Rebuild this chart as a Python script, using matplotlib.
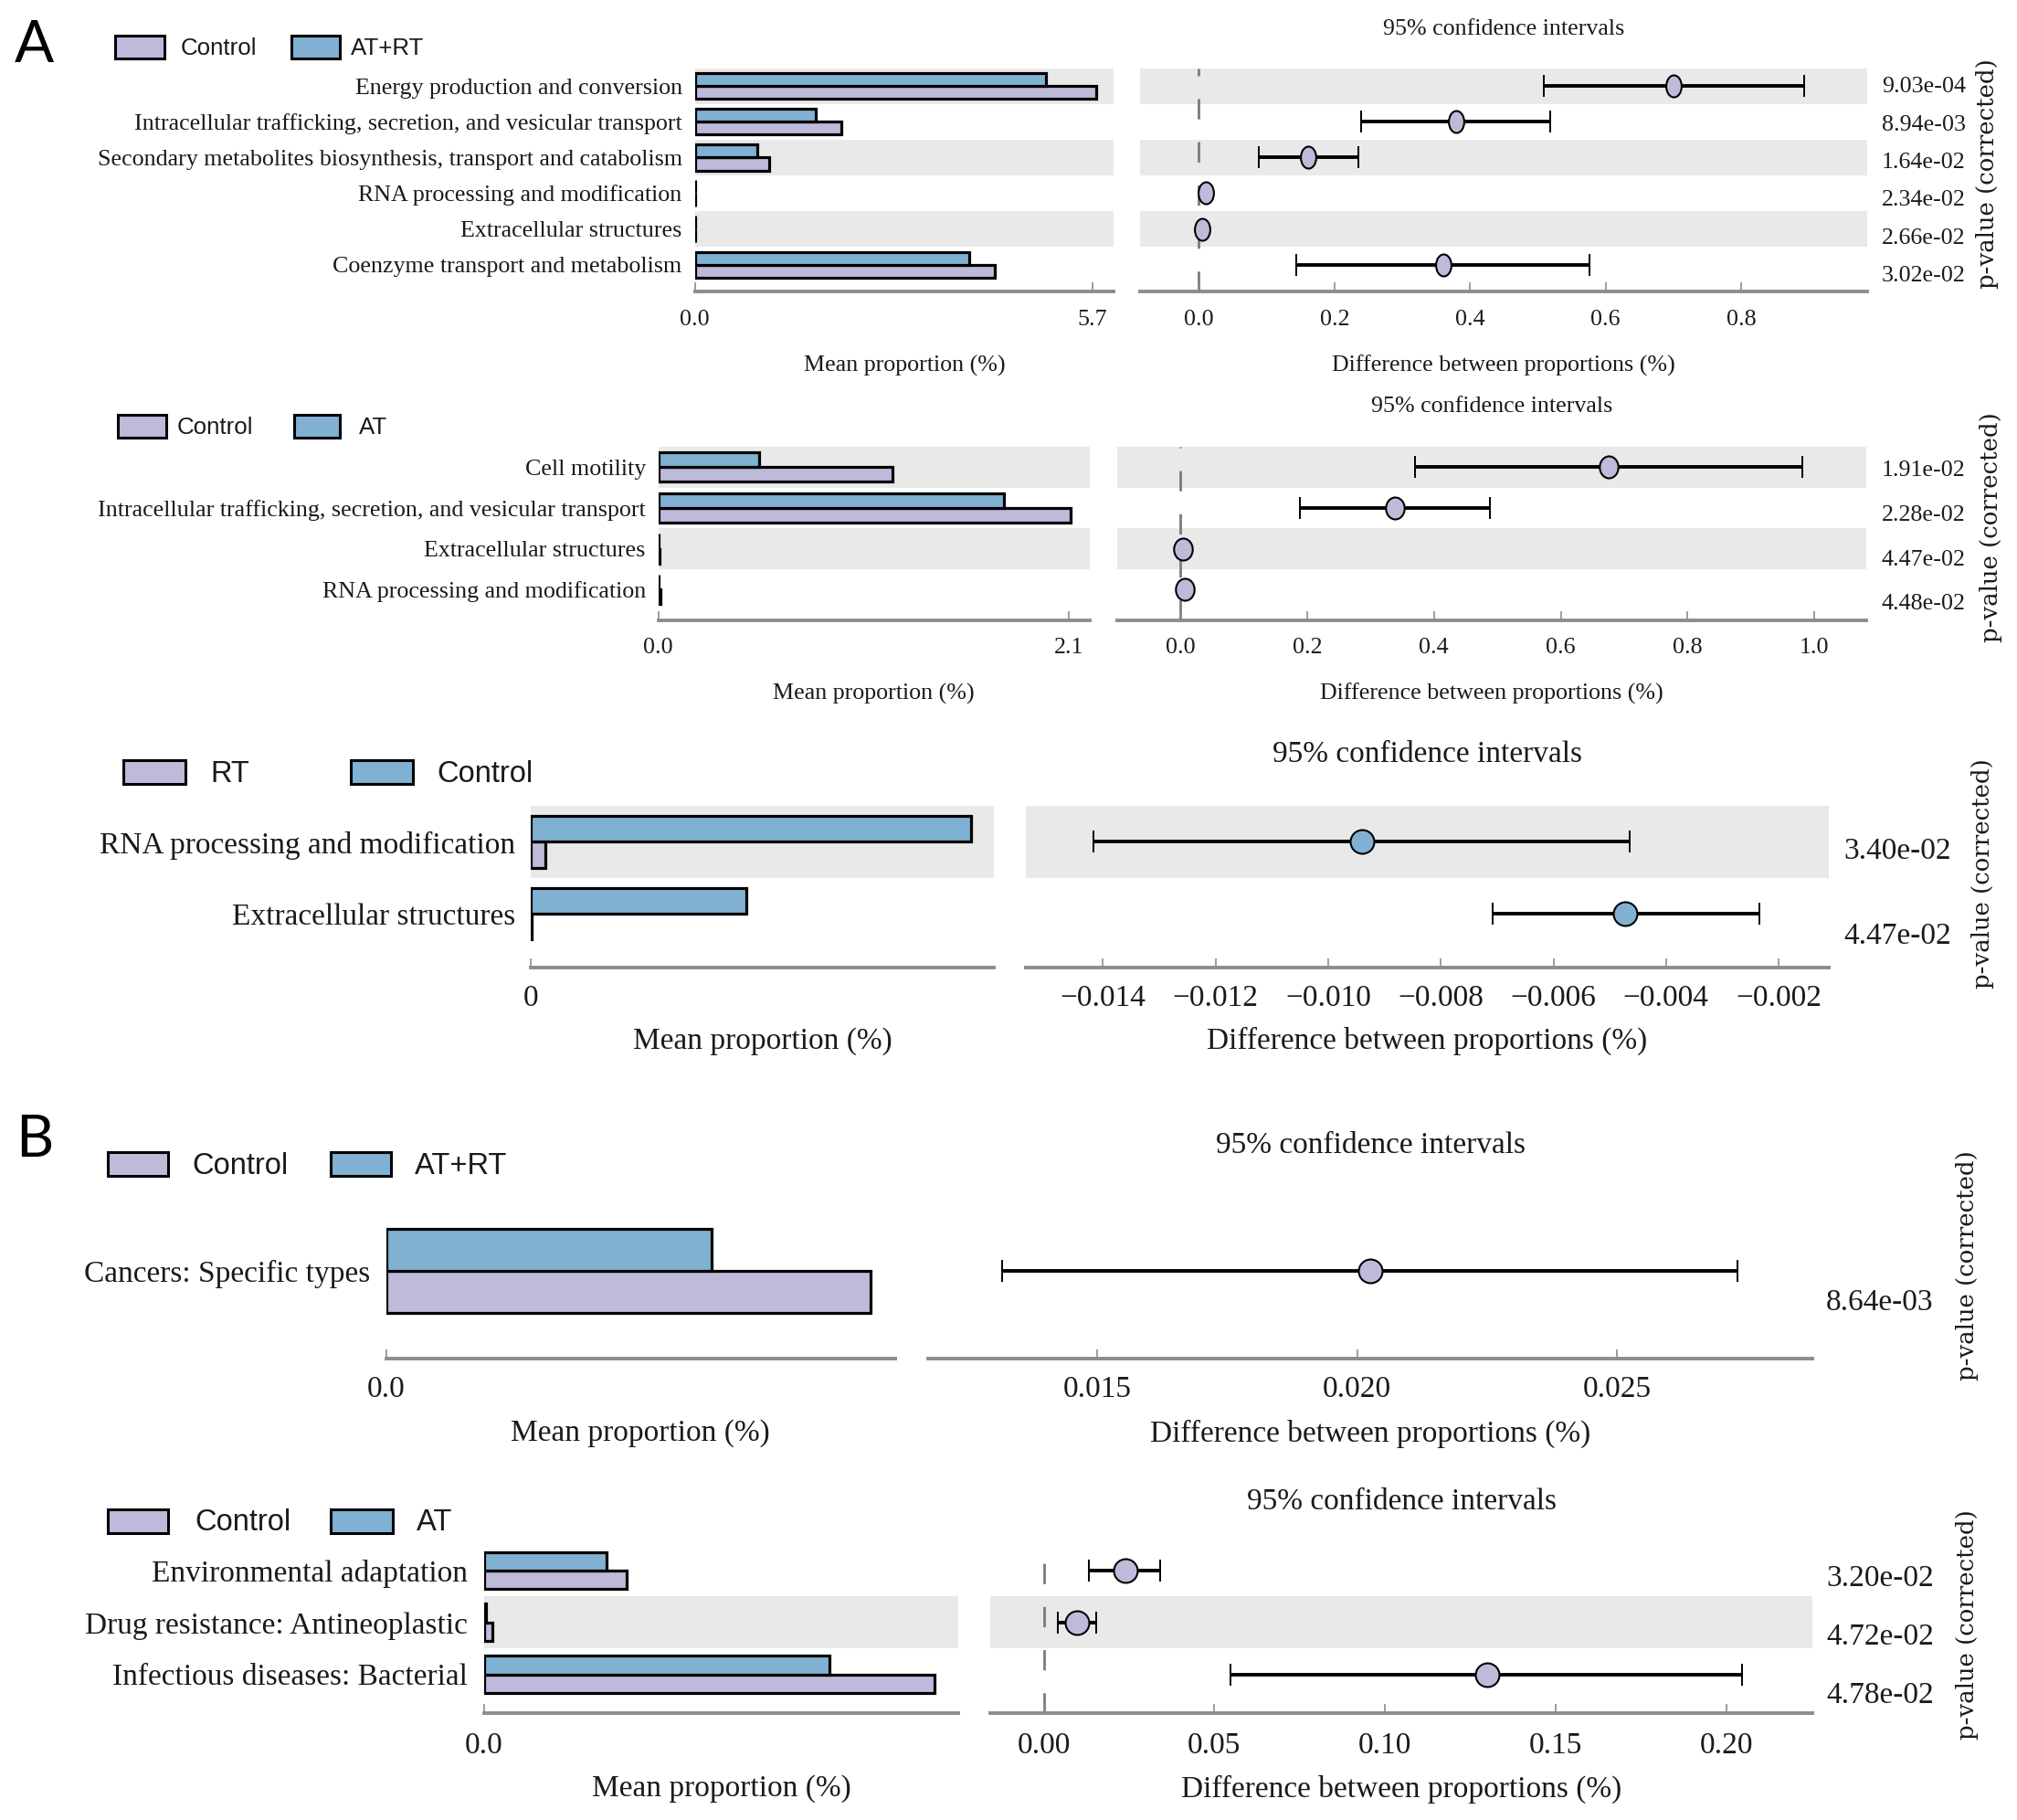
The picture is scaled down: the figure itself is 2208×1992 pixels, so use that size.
import numpy as np
import matplotlib
matplotlib.use("Agg")
import matplotlib.pyplot as plt
from matplotlib.patches import Rectangle
from matplotlib.path import Path
from matplotlib.transforms import blended_transform_factory
from matplotlib import font_manager as fm

# ---------------- DATA ----------------
A1_categories = ["Energy production and conversion",
                 "Intracellular trafficking, secretion, and vesicular transport",
                 "Secondary metabolites biosynthesis, transport and catabolism",
                 "RNA processing and modification",
                 "Extracellular structures",
                 "Coenzyme transport and metabolism"]
A1_groups = ["Control", "AT+RT"]
A1_control = [5.75, 2.10, 1.06, 0.012, 0.008, 4.30]
A1_atrt = [5.03, 1.74, 0.89, 0.002, 0.003, 3.94]
A1_diff = [0.7007, 0.3797, 0.1614, 0.0104, 0.0043, 0.3607]
A1_ci_low = [0.5083, 0.2399, 0.0880, 0.0075, 0.0015, 0.1441]
A1_ci_high = [0.8932, 0.5187, 0.2356, 0.0133, 0.0071, 0.5765]
A1_pvalues = ["9.03e-04", "8.94e-03", "1.64e-02", "2.34e-02", "2.66e-02", "3.02e-02"]
A1_bar_ticks = [0.0, 5.7]
A1_ci_ticks = [0.0, 0.2, 0.4, 0.6, 0.8]

A2_categories = ["Cell motility",
                 "Intracellular trafficking, secretion, and vesicular transport",
                 "Extracellular structures",
                 "RNA processing and modification"]
A2_groups = ["Control", "AT"]
A2_control = [1.198, 2.111, 0.006, 0.009]
A2_at = [0.518, 1.771, 0.002, 0.001]
A2_diff = [0.675, 0.338, 0.0037, 0.0074]
A2_ci_low = [0.370, 0.189, 0.0010, 0.0040]
A2_ci_high = [0.9815, 0.488, 0.0065, 0.0110]
A2_pvalues = ["1.91e-02", "2.28e-02", "4.47e-02", "4.48e-02"]
A2_bar_ticks = [0.0, 2.1]
A2_ci_ticks = [0.0, 0.2, 0.4, 0.6, 0.8, 1.0]

A3_categories = ["RNA processing and modification", "Extracellular structures"]
A3_groups = ["RT", "Control"]
A3_rt = [0.00032, 0.00002]
A3_control = [0.00972, 0.00475]
A3_diff = [-0.009406, -0.00472]
A3_ci_low = [-0.01417, -0.007086]
A3_ci_high = [-0.004651, -0.002343]
A3_pvalues = ["3.40e-02", "4.47e-02"]
A3_bar_ticks = [0.0]
A3_ci_ticks = [-0.014, -0.012, -0.010, -0.008, -0.006, -0.004, -0.002]

B1_categories = ["Cancers: Specific types"]
B1_groups = ["Control", "AT+RT"]
B1_control = [0.0618]
B1_atrt = [0.0415]
B1_diff = [0.02026]
B1_ci_low = [0.013176]
B1_ci_high = [0.027324]
B1_pvalues = ["8.64e-03"]
B1_bar_ticks = [0.0]
B1_ci_ticks = [0.015, 0.020, 0.025]

B2_categories = ["Environmental adaptation",
                 "Drug resistance: Antineoplastic",
                 "Infectious diseases: Bacterial"]
B2_groups = ["Control", "AT"]
B2_control = [0.1749, 0.0110, 0.5529]
B2_at = [0.1506, 0.0031, 0.4235]
B2_diff = [0.02407, 0.00967, 0.13004]
B2_ci_low = [0.01337, 0.00412, 0.05473]
B2_ci_high = [0.03416, 0.01543, 0.20473]
B2_pvalues = ["3.20e-02", "4.72e-02", "4.78e-02"]
B2_bar_ticks = [0.0]
B2_ci_ticks = [0.00, 0.05, 0.10, 0.15, 0.20]

# ---------------- STYLE ----------------
PURPLE = "#BEBADA"
BLUE = "#80B1D3"
BAND = "#E9E9E9"
AXC = "#8C8C8C"
TXT = "#1A1A1A"

plt.rcParams["font.family"] = ["Liberation Serif", "DejaVu Serif"]
names = {f.name for f in fm.fontManager.ttflist}
if "Liberation Sans Narrow" in names:
    NARROW_FAM, NARROW_FS = "Liberation Sans Narrow", 23.0
else:
    NARROW_FAM, NARROW_FS = "Liberation Sans", 18.6
LETTER_FAM = "Lato" if "Lato" in names else "DejaVu Sans"

W, H = 2208, 1992
SX, SY = 0.9955, 0.998
fig = plt.figure(figsize=(W / 100, H / 100), dpi=100)


def fx(x):
    return x * SX / W


def fy(y):
    return 1 - y * SY / H


def ellipse_marker(ratio):
    c = Path.unit_circle()
    return Path(c.vertices * np.array([ratio, 1.0]), c.codes)


def draw_panel(cats, g1, g2, diff, lo, hi, pvals, groups, bar_ticks, bar_fmt,
               ci_ticks, ci_fmt, L):
    n = len(cats)
    rows = np.arange(n)
    ylim = (n - 1 + 0.75, -0.5)
    fs = L["fs"]
    h = 0.36
    axes = []
    for (x0, x1) in (L["bar"], L["ci"]):
        ax = fig.add_axes([fx(x0), fy(L["axis"]), fx(x1) - fx(x0),
                           fy(L["top"]) - fy(L["axis"])])
        ax.set_ylim(ylim)
        for s in ("top", "left", "right"):
            ax.spines[s].set_visible(False)
        ax.spines["bottom"].set_color(AXC)
        ax.spines["bottom"].set_linewidth(2.8)
        ax.tick_params(axis="x", direction="in", length=7, width=1.2,
                       color=AXC, pad=L["tickpad"], labelsize=fs,
                       labelcolor=TXT)
        ax.tick_params(axis="y", length=0, pad=L["ypad"], labelsize=fs,
                       labelcolor=TXT)
        ax.patch.set_alpha(0)
        for i in rows:
            if (n - 1 - i) % 2 == 1:
                ax.axhspan(i - 0.5, i + 0.5, color=BAND, lw=0, zorder=0)
        axes.append(ax)
    axb, axc = axes

    # bars
    axb.barh(rows + h / 2, g1, height=h, color=PURPLE, edgecolor="black",
             linewidth=2.3, zorder=2)
    axb.barh(rows - h / 2, g2, height=h, color=BLUE, edgecolor="black",
             linewidth=2.3, zorder=2)
    axb.set_xlim(0, L["bar_max"])
    axb.set_xticks(bar_ticks, [bar_fmt(t) for t in bar_ticks])
    axb.set_yticks(rows, cats)

    # confidence intervals
    diff = np.asarray(diff)
    lo = np.asarray(lo)
    hi = np.asarray(hi)
    axc.set_xlim(*L["ci_lim"])
    if L["ci_lim"][0] < 0 < L["ci_lim"][1]:
        axc.axvline(0, color="#7A7A7A", lw=2.0, ls=(0, (8, 9)), zorder=1)
    axc.errorbar(diff, rows, xerr=[diff - lo, hi - diff], fmt="none",
                 ecolor="black", elinewidth=2.8, capsize=8.5, capthick=1.4,
                 zorder=3)
    marker = ellipse_marker(L["ratio"]) if L["ratio"] < 1 else "o"
    for d, r in zip(diff, rows):
        axc.plot([d], [r], ls="none", marker=marker, ms=L["ms"],
                 mfc=PURPLE if d > 0 else BLUE, mec="black", mew=1.5,
                 zorder=4)
    axc.set_xticks(ci_ticks, [ci_fmt(t) for t in ci_ticks])
    axc.set_yticks([])

    # p-values
    tr = blended_transform_factory(fig.transFigure, axc.transData)
    for i, p in enumerate(pvals):
        axc.text(fx(L["px"]), i * L["pstep"] + L["p0"], p, transform=tr,
                 ha="left", va="center", fontsize=fs, color=TXT,
                 clip_on=False)
    fig.text(fx(L["pc"][0]), fy(L["pc"][1]), "p-value (corrected)",
             rotation=90, ha="center", va="center", fontsize=18.7,
             family="DejaVu Serif", color=TXT)

    # texts
    bx = (L["bar"][0] + L["bar"][1]) / 2
    cx = (L["ci"][0] + L["ci"][1]) / 2
    fig.text(fx(cx), fy(L["title_y"]), "95% confidence intervals",
             ha="center", va="center", fontsize=fs, color=TXT)
    fig.text(fx(bx), fy(L["xlabel_y"]), "Mean proportion (%)",
             ha="center", va="center", fontsize=fs, color=TXT)
    fig.text(fx(cx), fy(L["xlabel_y"]), "Difference between proportions (%)",
             ha="center", va="center", fontsize=fs, color=TXT)

    # legend
    bh = L["box_h"]
    for (b0, b1), tx, col, name in zip(L["boxes"], L["texts"],
                                        (PURPLE, BLUE), groups):
        fig.add_artist(Rectangle((fx(b0), fy(L["leg_y"] + bh / 2)),
                                 fx(b1) - fx(b0), fy(L["leg_y"] - bh / 2) - fy(L["leg_y"] + bh / 2),
                                 transform=fig.transFigure, fc=col,
                                 ec="black", lw=2.2))
        fig.text(fx(tx), fy(L["leg_y"] + 2), name, ha="left", va="center",
                 family=L["legfam"], fontsize=L["legfs"], color=TXT)


f1 = lambda t: f"{t:.1f}"
f2 = lambda t: f"{t:.2f}"
f3 = lambda t: f"{t:.3f}"
fneg = lambda t: f"{t:.3f}".replace("-", "\u2212")
f0 = lambda t: "0"

L_A1 = dict(bar=(764, 1225), ci=(1254, 2053), top=75, axis=319.5, fs=18.7,
            bar_max=6.01, ci_lim=(-0.0863, 0.9855), tickpad=14.4, ypad=10,
            ratio=0.70, ms=17.3, px=2069, pstep=1.06, p0=0.02, pc=(2185, 191),
            title_y=32, xlabel_y=401, leg_y=51.5, box_h=25,
            boxes=[(127, 181), (320, 374)], texts=[199, 386],
            legfam=NARROW_FAM, legfs=NARROW_FS)
L_A2 = dict(bar=(724, 1198), ci=(1229, 2052), top=490, axis=680, fs=18.7,
            bar_max=2.207, ci_lim=(-0.0988, 1.0813), tickpad=13.7, ypad=10,
            ratio=0.85, ms=17.3, px=2069, pstep=1.09, p0=0.09, pc=(2189, 578),
            title_y=446, xlabel_y=761, leg_y=467, box_h=25,
            boxes=[(130, 183), (323, 374)], texts=[195, 395],
            legfam=NARROW_FAM, legfs=NARROW_FS)
L_A3 = dict(bar=(584, 1093), ci=(1128, 2011), top=884, axis=1061, fs=24,
            bar_max=0.01022, ci_lim=(-0.01537, -0.00111), tickpad=13.3,
            ypad=12.5, ratio=1.0, ms=18.7, px=2027, pstep=1.19, p0=0.13,
            pc=(2180, 958), title_y=827, xlabel_y=1142, leg_y=847, box_h=26,
            boxes=[(136, 204), (386, 454)], texts=[231, 481],
            legfam="Liberation Sans", legfs=23.5)
L_B1 = dict(bar=(425, 984), ci=(1021, 1993), top=1330, axis=1490, fs=24,
            bar_max=0.0649, ci_lim=(0.011757, 0.028757), tickpad=13.3,
            ypad=12.5, ratio=1.0, ms=18.7, px=2008, pstep=1.0, p0=0.27,
            pc=(2163, 1388), title_y=1256, xlabel_y=1572, leg_y=1277, box_h=26,
            boxes=[(119, 185), (364, 430)], texts=[211, 456],
            legfam="Liberation Sans", legfs=23.5)
L_B2 = dict(bar=(532, 1054), ci=(1089, 1993), top=1694, axis=1879, fs=24,
            bar_max=0.582, ci_lim=(-0.01564, 0.2253), tickpad=14.8,
            ypad=12.5, ratio=1.0, ms=18.7, px=2008, pstep=1.13, p0=0.15,
            pc=(2163, 1782), title_y=1647, xlabel_y=1962, leg_y=1668, box_h=26,
            boxes=[(119, 185), (364, 432)], texts=[214, 458],
            legfam="Liberation Sans", legfs=23.5)

draw_panel(A1_categories, A1_control, A1_atrt, A1_diff, A1_ci_low, A1_ci_high,
           A1_pvalues, A1_groups, A1_bar_ticks, f1, A1_ci_ticks, f1, L_A1)
draw_panel(A2_categories, A2_control, A2_at, A2_diff, A2_ci_low, A2_ci_high,
           A2_pvalues, A2_groups, A2_bar_ticks, f1, A2_ci_ticks, f1, L_A2)
draw_panel(A3_categories, A3_rt, A3_control, A3_diff, A3_ci_low, A3_ci_high,
           A3_pvalues, A3_groups, A3_bar_ticks, f0, A3_ci_ticks, fneg, L_A3)
draw_panel(B1_categories, B1_control, B1_atrt, B1_diff, B1_ci_low, B1_ci_high,
           B1_pvalues, B1_groups, B1_bar_ticks, f1, B1_ci_ticks, f3, L_B1)
draw_panel(B2_categories, B2_control, B2_at, B2_diff, B2_ci_low, B2_ci_high,
           B2_pvalues, B2_groups, B2_bar_ticks, f1, B2_ci_ticks, f2, L_B2)

fig.text(fx(38), fy(50), "A", family=LETTER_FAM, fontsize=46, ha="center",
         va="center", color="black")
fig.text(fx(38), fy(1250), "B", family=LETTER_FAM, fontsize=46, ha="center",
         va="center", color="black")

fig.savefig("out.png", dpi=100, facecolor="white")
